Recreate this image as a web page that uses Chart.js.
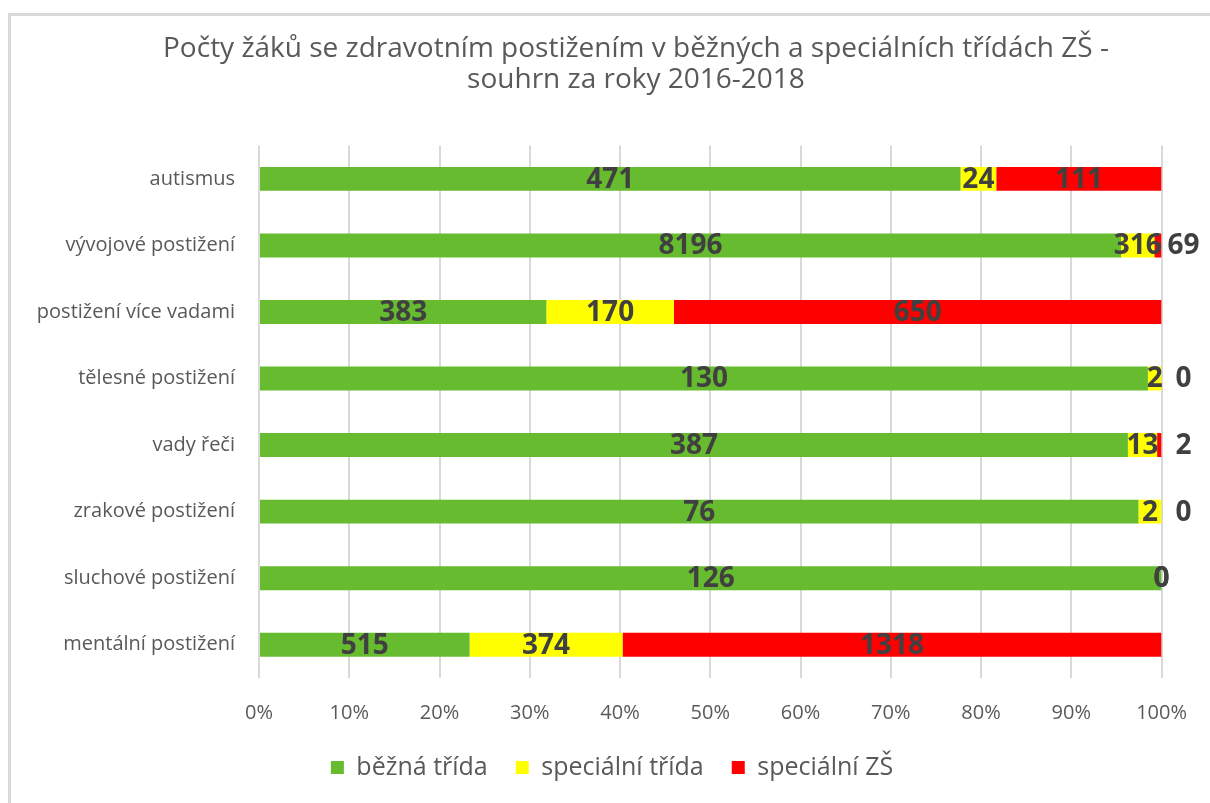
<!DOCTYPE html>
<html lang="cs">
<head>
<meta charset="utf-8">
<title>Počty žáků se zdravotním postižením</title>
<script src="https://cdn.jsdelivr.net/npm/chart.js@4.4.1/dist/chart.umd.min.js"></script>
<style>
  html, body { margin: 0; padding: 0; background: #ffffff; overflow: hidden; }
  #frame {
    position: absolute; left: 8px; top: 13px; width: 1300px; height: 900px;
    border-left: 3px solid #d9d9d9; border-top: 3px solid #d9d9d9;
  }
  #wrap { position: absolute; left: 0; top: 0; width: 1210px; height: 803px; }
</style>
</head>
<body>
<div id="frame"></div>
<div id="wrap"><canvas id="chart" width="1210" height="803"></canvas></div>
<script>
// categories (top to bottom as in the picture)
const categories = [
  'autismus',
  'vývojové postižení',
  'postižení více vadami',
  'tělesné postižení',
  'vady řeči',
  'zrakové postižení',
  'sluchové postižení',
  'mentální postižení'
];

// pupil counts per category
const bezna = [471, 8196, 383, 130, 387, 76, 126, 515];
const specTrida = [24, 316, 170, 2, 13, 2, 0, 374];
const specZS = [111, 69, 650, 0, 2, 0, 0, 1318];

const seriesNames = ['běžná třída', 'speciální třída', 'speciální ZŠ'];
const seriesColors = ['#66bb2e', '#ffff00', '#ff0000'];

const tickValues = [0, 10, 20, 30, 40, 50, 60, 70, 80, 90, 100];

const titleLines = [
  'Počty žáků se zdravotním postižením v běžných a speciálních třídách ZŠ -',
  'souhrn za roky 2016-2018'
];

const counts = [bezna, specTrida, specZS];
const totals = categories.map((_, i) => bezna[i] + specTrida[i] + specZS[i]);

// 100 % stacked -> share of each category total
const toPercent = arr => arr.map((v, i) => totals[i] > 0 ? (v / totals[i]) * 100 : 0);

const FONT = '"Open Sans", "Liberation Sans", sans-serif';
const TEXT = '#595959';

/**
 * Excel centres title and legend on the whole chart object,
 * not on the area left after the category labels - nudge them over
 */
const centreBlocks = {
  id: 'centreBlocks',
  afterLayout(chart) {
    const t = chart.titleBlock;
    if (t) { t.left += 49; t.right += 49; }
    const l = chart.legend;
    if (l) { l.left += 25; l.right += 25; }
  }
};

/**
 * Draw the raw counts on the segments (like Excel data labels)
 */
const valueLabels = {
  id: 'valueLabels',
  afterDatasetsDraw(chart) {
    const ctx = chart.ctx;
    const area = chart.chartArea;
    const last = chart.data.datasets.length - 1;
    ctx.save();
    ctx.font = 'bold 28px ' + FONT;
    ctx.fillStyle = '#404040';
    ctx.textAlign = 'center';
    ctx.textBaseline = 'middle';
    chart.data.datasets.forEach((ds, d) => {
      const meta = chart.getDatasetMeta(d);
      meta.data.forEach((bar, i) => {
        const text = String(counts[d][i]);
        const w = Math.abs(bar.x - bar.base);
        const tw = ctx.measureText(text).width;
        let x = (bar.x + bar.base) / 2;
        // narrow last segment: label sits just right of the bar
        if (d === last && w < tw && specTrida[i] > 0) {
          x = area.right + 22;
        }
        ctx.fillText(text, x, bar.y + 1);
      });
    });
    ctx.restore();
  }
};

new Chart(document.getElementById('chart'), {
  type: 'bar',
  data: {
    labels: categories,
    datasets: counts.map((arr, d) => ({
      label: seriesNames[d],
      data: toPercent(arr),
      backgroundColor: seriesColors[d],
      borderWidth: 0,
      barPercentage: 0.9,
      categoryPercentage: 0.4
    }))
  },
  options: {
    indexAxis: 'y',
    responsive: false,
    animation: false,
    layout: { padding: { left: 10, right: 46, top: 0, bottom: 13 } },
    plugins: {
      title: {
        display: true,
        text: titleLines,
        color: TEXT,
        font: { family: FONT, size: 28, weight: 'normal', lineHeight: 1.1 },
        padding: { top: 34, bottom: 50 }
      },
      legend: {
        position: 'bottom',
        labels: {
          color: TEXT,
          font: { family: FONT, size: 25 },
          boxWidth: 13,
          boxHeight: 13,
          padding: 28
        }
      },
      tooltip: { enabled: false }
    },
    scales: {
      x: {
        stacked: true,
        min: 0,
        max: 100,
        afterBuildTicks: scale => {
          scale.ticks = tickValues.map(v => ({ value: v }));
        },
        afterFit: scale => { scale.height = 49; },
        grid: { color: '#d9d9d9', lineWidth: 2, drawTicks: false },
        border: { display: false },
        ticks: {
          color: TEXT,
          font: { family: FONT, size: 20 },
          padding: 23,
          callback: v => v + '%'
        }
      },
      y: {
        stacked: true,
        afterFit: scale => { scale.width = 249; },
        grid: { display: false, drawTicks: false },
        border: { display: false },
        ticks: {
          color: TEXT,
          font: { family: FONT, size: 20 },
          padding: 24
        }
      }
    }
  },
  plugins: [centreBlocks, valueLabels]
});
</script>
</body>
</html>
